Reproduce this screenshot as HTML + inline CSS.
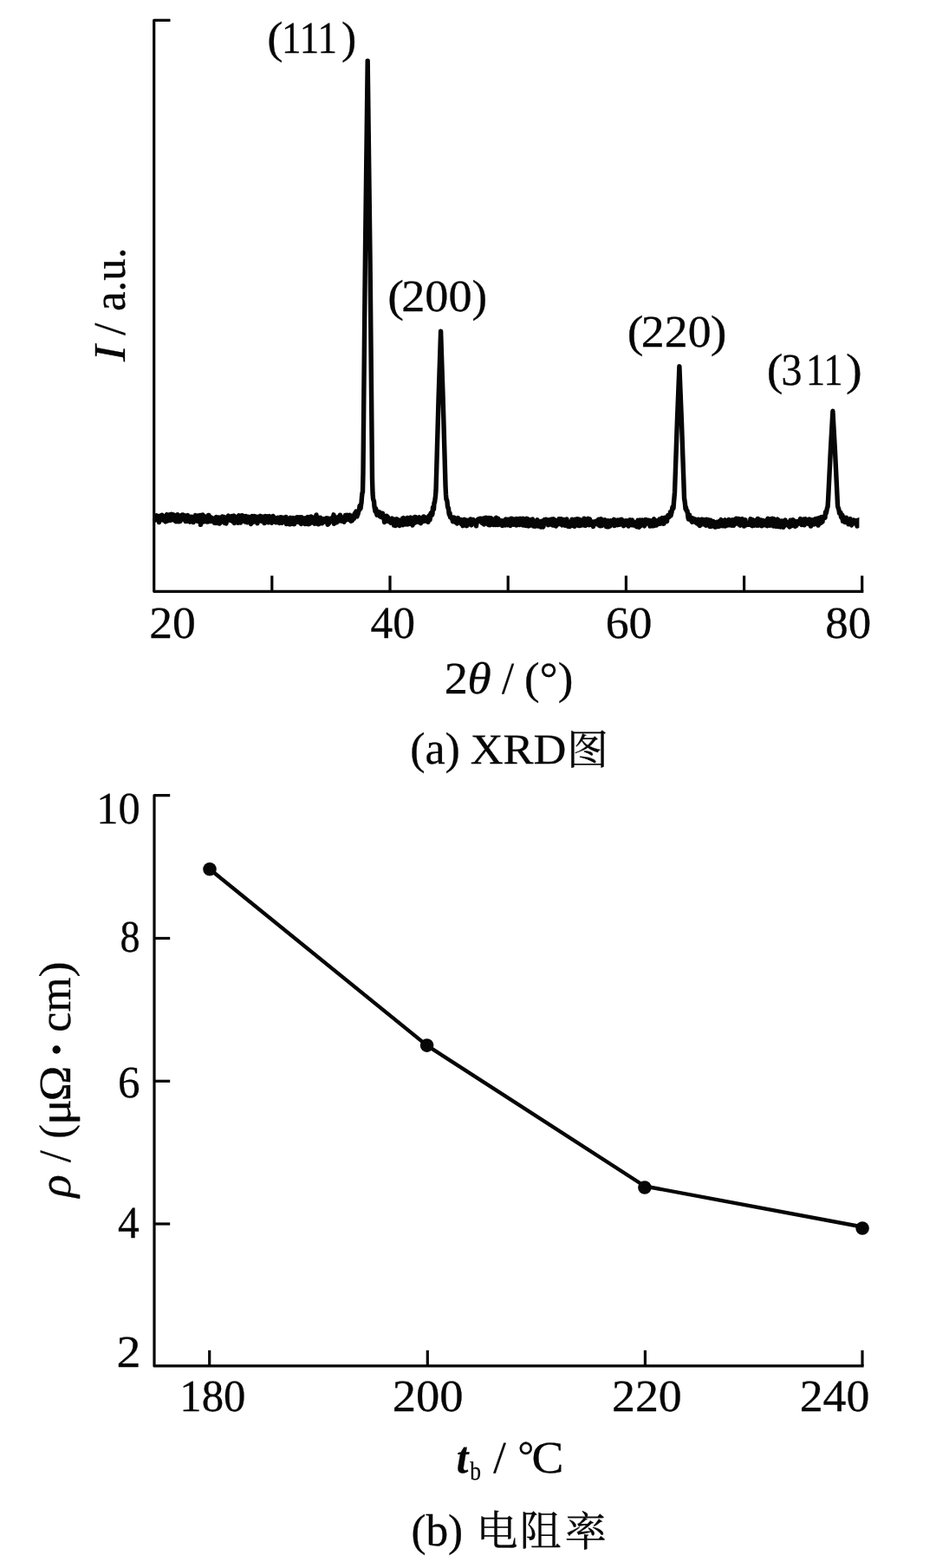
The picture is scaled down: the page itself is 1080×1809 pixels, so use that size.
<!DOCTYPE html>
<html lang="zh"><head><meta charset="utf-8"><title>XRD / resistivity</title>
<style>
html,body{margin:0;padding:0;background:#fff}
svg{display:block}
text{font-family:"Liberation Serif","Noto Serif CJK SC",serif;fill:#060606;stroke:#060606;stroke-width:0.3px;stroke-linejoin:round;white-space:pre;text-rendering:geometricPrecision}
</style></head><body>
<svg width="1080" height="1809" viewBox="0 0 1080 1809">
<rect width="1080" height="1809" fill="#fff"/>
<g fill="none" stroke="#060606" stroke-width="3.2" stroke-linejoin="round">
<path d="M196.5,23.4 H177.7 V682.3 H996.3"/>
<path d="M313.8,682.3 V664.2"/>
<path d="M450.0,682.3 V664.2"/>
<path d="M586.2,682.3 V664.2"/>
<path d="M722.4,682.3 V664.2"/>
<path d="M858.6,682.3 V664.2"/>
<path d="M994.7,682.3 V664.2"/>
<path d="M196.2,917.6 H178.0 V1575.9 H996.6"/>
<path d="M178,1082.5 H196.2"/>
<path d="M178,1247.3 H196.2"/>
<path d="M178,1412.0 H196.2"/>
<path d="M241.7,1575.9 V1557.8"/>
<path d="M493.3,1575.9 V1557.8"/>
<path d="M744.4,1575.9 V1557.8"/>
<path d="M995.0,1575.9 V1557.8"/>
</g>
<clipPath id="xc"><rect x="170" y="40" width="821.4" height="600"/></clipPath>
<path clip-path="url(#xc)" d="M178.5,597.3 179.0,600.1 179.5,599.1 180.0,594.9 180.5,594.7 181.0,594.9 181.5,597.9 182.0,595.3 182.5,599.6 183.0,599.1 183.5,602.5 184.0,601.5 184.5,595.2 185.0,596.6 185.5,595.4 186.0,599.3 186.5,598.5 187.0,594.2 187.5,599.5 188.0,596.3 188.5,597.5 189.0,600.4 189.5,595.6 190.0,598.0 190.5,599.7 191.0,601.9 191.5,596.9 192.0,594.6 192.5,593.6 193.0,599.9 193.5,600.8 194.0,599.2 194.5,598.2 195.0,600.4 195.5,597.3 196.0,593.7 196.5,598.8 197.0,600.3 197.5,596.5 198.0,593.3 198.5,594.6 199.0,593.7 199.5,594.3 200.0,596.6 200.5,593.9 201.0,598.0 201.5,600.4 202.0,595.7 202.5,596.5 203.0,601.7 203.5,595.0 204.0,595.5 204.5,598.6 205.0,593.6 205.5,596.8 206.0,601.9 206.5,598.2 207.0,599.6 207.5,601.6 208.0,601.4 208.5,597.2 209.0,594.8 209.5,594.4 210.0,595.7 210.5,596.9 211.0,594.0 211.5,594.9 212.0,594.3 212.5,599.4 213.0,596.3 213.5,597.3 214.0,601.5 214.5,598.2 215.0,594.9 215.5,597.1 216.0,601.4 216.5,594.4 217.0,598.8 217.5,600.6 218.0,599.8 218.5,601.5 219.0,602.1 219.5,596.1 220.0,598.5 220.5,599.4 221.0,600.7 221.5,596.2 222.0,601.0 222.5,598.3 223.0,602.6 223.5,598.1 224.0,599.2 224.5,601.0 225.0,597.0 225.5,594.6 226.0,598.0 226.5,598.1 227.0,600.9 227.5,599.4 228.0,594.9 228.5,600.0 229.0,601.5 229.5,599.3 230.0,602.0 230.5,597.8 231.0,594.5 231.5,605.4 232.0,600.8 232.5,600.9 233.0,599.5 233.5,598.5 234.0,593.9 234.5,599.5 235.0,601.9 235.5,601.4 236.0,595.7 236.5,596.5 237.0,599.0 237.5,597.6 238.0,601.9 238.5,598.0 239.0,602.0 239.5,602.1 240.0,598.8 240.5,594.4 241.0,594.5 241.5,598.5 242.0,599.3 242.5,599.0 243.0,601.4 243.5,599.5 244.0,597.1 244.5,599.2 245.0,601.4 245.5,598.7 246.0,599.3 246.5,601.0 247.0,599.7 247.5,603.3 248.0,602.8 248.5,597.5 249.0,603.5 249.5,596.5 250.0,599.3 250.5,597.6 251.0,601.3 251.5,603.4 252.0,601.8 252.5,596.9 253.0,604.1 253.5,604.0 254.0,600.0 254.5,603.0 255.0,599.5 255.5,598.7 256.0,598.6 256.5,596.0 257.0,597.5 257.5,598.4 258.0,596.8 258.5,597.8 259.0,596.5 259.5,603.6 260.0,602.3 260.5,603.1 261.0,603.9 261.5,600.3 262.0,599.9 262.5,598.0 263.0,597.2 263.5,595.1 264.0,596.2 264.5,596.0 265.0,599.4 265.5,600.2 266.0,597.7 266.5,599.9 267.0,596.2 267.5,595.6 268.0,597.9 268.5,601.7 269.0,599.4 269.5,597.0 270.0,595.1 270.5,603.5 271.0,597.0 271.5,600.6 272.0,600.6 272.5,602.5 273.0,597.5 273.5,596.8 274.0,602.4 274.5,595.9 275.0,603.2 275.5,594.8 276.0,602.3 276.5,595.1 277.0,598.0 277.5,603.1 278.0,600.7 278.5,596.3 279.0,594.7 279.5,597.5 280.0,596.0 280.5,596.3 281.0,595.4 281.5,600.4 282.0,601.5 282.5,601.9 283.0,599.9 283.5,597.4 284.0,595.6 284.5,602.3 285.0,602.7 285.5,600.1 286.0,601.2 286.5,597.5 287.0,596.3 287.5,601.3 288.0,598.8 288.5,599.5 289.0,601.7 289.5,604.5 290.0,603.0 290.5,601.3 291.0,595.5 291.5,598.4 292.0,602.6 292.5,600.8 293.0,601.2 293.5,595.4 294.0,601.9 294.5,600.0 295.0,595.9 295.5,597.6 296.0,597.7 296.5,597.1 297.0,603.8 297.5,598.7 298.0,601.3 298.5,600.7 299.0,596.0 299.5,597.5 300.0,597.9 300.5,595.3 301.0,597.5 301.5,601.2 302.0,597.7 302.5,599.2 303.0,596.1 303.5,596.8 304.0,602.0 304.5,599.4 305.0,603.6 305.5,602.9 306.0,595.5 306.5,601.3 307.0,597.9 307.5,600.3 308.0,595.7 308.5,599.0 309.0,598.1 309.5,602.9 310.0,598.2 310.5,598.2 311.0,595.6 311.5,597.4 312.0,598.0 312.5,597.9 313.0,597.8 313.5,603.2 314.0,597.7 314.5,596.9 315.0,595.4 315.5,597.0 316.0,596.7 316.5,599.0 317.0,597.8 317.5,602.3 318.0,600.1 318.5,602.8 319.0,600.9 319.5,601.1 320.0,601.3 320.5,597.3 321.0,602.9 321.5,599.0 322.0,597.6 322.5,603.5 323.0,600.8 323.5,600.0 324.0,596.7 324.5,597.1 325.0,599.6 325.5,603.3 326.0,599.4 326.5,597.2 327.0,598.6 327.5,597.7 328.0,600.7 328.5,602.3 329.0,599.5 329.5,599.2 330.0,596.5 330.5,604.5 331.0,600.5 331.5,603.7 332.0,598.6 332.5,599.8 333.0,604.6 333.5,602.0 334.0,603.1 334.5,604.9 335.0,597.1 335.5,604.6 336.0,600.6 336.5,603.4 337.0,597.9 337.5,597.6 338.0,602.8 338.5,604.5 339.0,601.9 339.5,604.7 340.0,599.3 340.5,598.9 341.0,602.8 341.5,597.3 342.0,601.8 342.5,598.6 343.0,596.7 343.5,600.6 344.0,602.2 344.5,600.7 345.0,598.7 345.5,602.7 346.0,596.7 346.5,602.4 347.0,598.7 347.5,604.5 348.0,596.7 348.5,600.0 349.0,598.1 349.5,602.7 350.0,598.1 350.5,599.0 351.0,598.2 351.5,602.8 352.0,604.5 352.5,597.8 353.0,599.8 353.5,604.4 354.0,599.5 354.5,604.6 355.0,596.5 355.5,599.5 356.0,603.7 356.5,604.7 357.0,598.9 357.5,604.2 358.0,596.3 358.5,599.3 359.0,598.9 359.5,596.1 360.0,599.1 360.5,597.2 361.0,597.9 361.5,603.3 362.0,599.9 362.5,600.3 363.0,604.2 363.5,599.4 364.0,596.5 364.5,603.4 365.0,593.9 365.5,596.9 366.0,596.9 366.5,599.6 367.0,604.8 367.5,603.0 368.0,604.6 368.5,602.8 369.0,603.6 369.5,597.2 370.0,597.6 370.5,600.7 371.0,603.6 371.5,603.8 372.0,602.7 372.5,602.8 373.0,598.8 373.5,600.8 374.0,602.0 374.5,600.2 375.0,600.4 375.5,601.0 376.0,598.2 376.5,597.8 377.0,602.3 377.5,600.5 378.0,605.3 378.5,598.0 379.0,604.5 379.5,601.4 380.0,603.3 380.5,599.3 381.0,599.0 381.5,598.9 382.0,598.2 382.5,599.0 383.0,598.2 383.5,598.7 384.0,601.0 384.5,597.3 385.0,593.8 385.5,604.3 386.0,598.8 386.5,597.9 387.0,601.2 387.5,599.4 388.0,600.0 388.5,602.8 389.0,596.9 389.5,601.3 390.0,599.1 390.5,597.6 391.0,601.0 391.5,595.6 392.0,599.0 392.5,594.2 393.0,596.2 393.5,599.1 394.0,601.2 394.5,596.9 395.0,598.9 395.5,597.9 396.0,597.8 396.5,598.0 397.0,602.3 397.5,597.8 398.0,600.8 398.5,594.5 399.0,598.0 399.5,597.7 400.0,598.1 400.5,594.1 401.0,599.4 401.5,594.6 402.0,596.9 402.5,594.8 403.0,598.0 403.5,594.3 404.0,600.2 404.5,594.9 405.0,601.2 405.5,597.2 406.0,600.9 406.5,600.4 407.0,599.4 407.5,598.7 408.0,595.1 408.5,598.3 409.0,592.9 409.5,595.0 410.0,591.4 410.5,596.0 411.0,590.0 411.5,595.5 412.0,595.8 412.5,593.5 413.0,593.3 413.5,590.7 414.0,589.4 414.5,588.3 415.0,583.7 415.5,586.0 416.0,586.7 416.5,583.1 417.0,580.1 417.5,573.4 418.0,568.9 418.5,567.5 419.0,544.6 419.5,491.9 420.0,439.4 420.5,387.2 421.0,335.1 421.5,287.7 422.0,247.4 422.5,207.1 423.0,166.8 423.5,126.5 424.0,86.2 424.2,70.1 424.5,94.3 425.0,134.6 425.5,174.9 426.0,215.1 426.5,255.4 427.0,295.7 427.5,345.5 428.0,397.7 428.5,449.8 429.0,501.3 429.5,552.1 430.0,569.0 430.5,575.0 431.0,577.3 431.5,578.1 432.0,584.5 432.5,587.2 433.0,590.0 433.5,586.5 434.0,588.5 434.5,592.3 435.0,594.2 435.5,593.6 436.0,593.6 436.5,590.4 437.0,592.0 437.5,593.4 438.0,590.8 438.5,595.9 439.0,591.7 439.5,594.2 440.0,596.6 440.5,595.0 441.0,596.0 441.5,592.2 442.0,597.6 442.5,595.3 443.0,596.5 443.5,602.6 444.0,601.5 444.5,599.8 445.0,600.0 445.5,599.3 446.0,595.2 446.5,595.6 447.0,596.9 447.5,596.6 448.0,601.5 448.5,599.6 449.0,601.8 449.5,600.0 450.0,601.0 450.5,602.2 451.0,603.2 451.5,601.7 452.0,601.0 452.5,598.1 453.0,599.1 453.5,600.0 454.0,599.0 454.5,606.0 455.0,600.3 455.5,603.5 456.0,604.0 456.5,606.5 457.0,606.1 457.5,598.8 458.0,599.5 458.5,605.3 459.0,599.4 459.5,599.7 460.0,603.2 460.5,605.4 461.0,606.5 461.5,602.6 462.0,600.5 462.5,604.1 463.0,600.5 463.5,603.2 464.0,605.6 464.5,597.9 465.0,605.7 465.5,597.5 466.0,603.1 466.5,598.1 467.0,604.9 467.5,599.1 468.0,602.0 468.5,604.9 469.0,603.4 469.5,599.3 470.0,597.4 470.5,605.0 471.0,597.7 471.5,602.4 472.0,598.0 472.5,602.4 473.0,599.7 473.5,599.8 474.0,597.1 474.5,604.5 475.0,601.8 475.5,599.0 476.0,606.1 476.5,599.5 477.0,601.1 477.5,603.9 478.0,603.5 478.5,596.4 479.0,603.0 479.5,596.4 480.0,600.6 480.5,598.0 481.0,599.3 481.5,598.5 482.0,598.7 482.5,602.3 483.0,597.1 483.5,596.8 484.0,602.1 484.5,601.5 485.0,599.5 485.5,603.7 486.0,602.0 486.5,599.7 487.0,597.4 487.5,601.2 488.0,596.8 488.5,601.5 489.0,595.9 489.5,599.9 490.0,599.2 490.5,598.0 491.0,601.0 491.5,597.1 492.0,600.4 492.5,599.2 493.0,601.1 493.5,599.9 494.0,602.3 494.5,598.7 495.0,595.1 495.5,594.7 496.0,599.9 496.5,596.7 497.0,592.2 497.5,592.7 498.0,591.2 498.5,594.3 499.0,592.5 499.5,585.1 500.0,586.4 500.5,587.6 501.0,579.8 501.5,579.8 502.0,575.8 502.5,572.4 503.0,565.8 503.5,549.2 504.0,531.5 504.5,513.9 505.0,496.4 505.5,478.8 506.0,461.2 506.5,446.1 507.0,431.0 507.5,415.9 508.0,400.6 508.5,385.2 508.6,382.1 509.0,394.4 509.5,409.8 510.0,425.0 510.5,440.1 511.0,455.2 511.5,471.8 512.0,489.4 512.5,506.9 513.0,524.5 513.5,542.1 514.0,560.0 514.5,570.4 515.0,576.2 515.5,576.5 516.0,579.0 516.5,584.4 517.0,586.3 517.5,586.2 518.0,592.0 518.5,594.0 519.0,591.8 519.5,596.8 520.0,596.7 520.5,596.2 521.0,598.2 521.5,597.7 522.0,599.4 522.5,601.7 523.0,599.6 523.5,598.8 524.0,597.1 524.5,601.1 525.0,601.2 525.5,602.5 526.0,598.9 526.5,598.8 527.0,601.5 527.5,604.0 528.0,599.2 528.5,597.5 529.0,599.8 529.5,601.7 530.0,602.4 530.5,599.4 531.0,600.2 531.5,602.8 532.0,599.5 532.5,604.8 533.0,601.6 533.5,603.5 534.0,606.7 534.5,606.2 535.0,604.0 535.5,602.9 536.0,599.3 536.5,604.6 537.0,599.8 537.5,606.0 538.0,603.7 538.5,606.7 539.0,601.0 539.5,604.1 540.0,600.3 540.5,604.9 541.0,601.4 541.5,602.6 542.0,604.7 542.5,602.0 543.0,599.0 543.5,605.2 544.0,605.8 544.5,603.0 545.0,600.0 545.5,602.3 546.0,599.5 546.5,601.6 547.0,603.4 547.5,601.0 548.0,600.7 548.5,600.9 549.0,602.7 549.5,606.9 550.0,601.3 550.5,602.5 551.0,599.8 551.5,599.2 552.0,598.8 552.5,601.5 553.0,601.5 553.5,601.4 554.0,598.3 554.5,601.9 555.0,598.3 555.5,602.5 556.0,599.0 556.5,603.6 557.0,598.3 557.5,603.1 558.0,599.0 558.5,605.1 559.0,598.4 559.5,597.6 560.0,598.6 560.5,603.6 561.0,597.1 561.5,603.0 562.0,597.9 562.5,597.7 563.0,604.4 563.5,605.4 564.0,597.5 564.5,602.5 565.0,605.9 565.5,601.0 566.0,603.0 566.5,597.8 567.0,603.3 567.5,605.0 568.0,598.6 568.5,600.0 569.0,601.5 569.5,605.6 570.0,604.1 570.5,598.9 571.0,600.3 571.5,602.1 572.0,605.5 572.5,597.2 573.0,603.5 573.5,598.6 574.0,604.2 574.5,605.4 575.0,598.5 575.5,603.0 576.0,603.9 576.5,605.0 577.0,603.6 577.5,601.7 578.0,604.9 578.5,604.9 579.0,600.6 579.5,606.6 580.0,605.3 580.5,603.4 581.0,605.3 581.5,600.8 582.0,605.8 582.5,604.1 583.0,605.9 583.5,599.0 584.0,599.4 584.5,604.7 585.0,600.5 585.5,605.8 586.0,599.3 586.5,604.9 587.0,604.7 587.5,602.6 588.0,602.1 588.5,604.7 589.0,606.4 589.5,598.3 590.0,603.9 590.5,600.8 591.0,598.4 591.5,604.4 592.0,602.7 592.5,605.3 593.0,601.7 593.5,599.2 594.0,599.1 594.5,600.7 595.0,601.0 595.5,598.8 596.0,606.1 596.5,598.4 597.0,604.3 597.5,602.6 598.0,600.5 598.5,605.0 599.0,602.5 599.5,605.5 600.0,598.3 600.5,602.6 601.0,598.6 601.5,600.4 602.0,598.6 602.5,605.1 603.0,605.8 603.5,598.2 604.0,601.1 604.5,606.0 605.0,602.6 605.5,606.1 606.0,601.2 606.5,599.3 607.0,606.6 607.5,598.3 608.0,601.1 608.5,606.0 609.0,598.6 609.5,604.4 610.0,606.9 610.5,599.6 611.0,606.6 611.5,601.1 612.0,605.1 612.5,601.4 613.0,599.8 613.5,600.2 614.0,600.0 614.5,599.0 615.0,600.6 615.5,607.0 616.0,607.1 616.5,606.8 617.0,603.0 617.5,607.2 618.0,604.7 618.5,602.2 619.0,603.4 619.5,600.6 620.0,599.8 620.5,604.2 621.0,607.0 621.5,603.0 622.0,601.8 622.5,602.3 623.0,603.7 623.5,607.3 624.0,608.0 624.5,607.2 625.0,601.3 625.5,601.9 626.0,601.2 626.5,608.0 627.0,607.4 627.5,601.9 628.0,599.8 628.5,601.8 629.0,599.4 629.5,602.2 630.0,599.2 630.5,603.7 631.0,602.9 631.5,601.0 632.0,600.2 632.5,605.7 633.0,600.7 633.5,599.7 634.0,603.2 634.5,600.6 635.0,605.0 635.5,603.8 636.0,599.3 636.5,602.2 637.0,599.1 637.5,601.5 638.0,606.1 638.5,598.7 639.0,602.7 639.5,600.8 640.0,605.7 640.5,599.9 641.0,606.7 641.5,606.9 642.0,601.5 642.5,605.7 643.0,605.2 643.5,603.4 644.0,601.0 644.5,604.8 645.0,598.7 645.5,599.6 646.0,599.2 646.5,599.9 647.0,603.3 647.5,598.7 648.0,605.0 648.5,605.8 649.0,602.6 649.5,602.5 650.0,599.5 650.5,601.0 651.0,603.8 651.5,599.7 652.0,606.4 652.5,600.7 653.0,604.6 653.5,602.3 654.0,599.0 654.5,604.9 655.0,604.1 655.5,607.3 656.0,602.1 656.5,606.2 657.0,606.3 657.5,607.5 658.0,602.4 658.5,601.8 659.0,604.9 659.5,606.5 660.0,599.1 660.5,600.6 661.0,600.7 661.5,600.9 662.0,602.4 662.5,602.9 663.0,607.4 663.5,599.2 664.0,604.2 664.5,604.2 665.0,605.8 665.5,599.6 666.0,598.8 666.5,599.0 667.0,601.7 667.5,599.1 668.0,606.6 668.5,599.2 669.0,606.6 669.5,602.9 670.0,606.3 670.5,600.7 671.0,604.7 671.5,602.2 672.0,600.1 672.5,602.9 673.0,605.8 673.5,602.2 674.0,598.2 674.5,599.6 675.0,606.3 675.5,605.9 676.0,606.1 676.5,600.6 677.0,605.4 677.5,599.4 678.0,605.3 678.5,598.2 679.0,601.5 679.5,598.6 680.0,605.9 680.5,598.9 681.0,600.6 681.5,602.9 682.0,604.7 682.5,604.0 683.0,604.2 683.5,604.4 684.0,605.6 684.5,607.5 685.0,602.0 685.5,602.7 686.0,604.5 686.5,603.0 687.0,601.7 687.5,604.1 688.0,601.3 688.5,601.3 689.0,604.8 689.5,602.4 690.0,599.7 690.5,599.4 691.0,603.2 691.5,606.2 692.0,605.6 692.5,606.7 693.0,602.1 693.5,598.6 694.0,603.4 694.5,606.6 695.0,603.3 695.5,603.2 696.0,604.7 696.5,601.9 697.0,601.9 697.5,604.8 698.0,599.8 698.5,602.5 699.0,604.0 699.5,607.5 700.0,602.9 700.5,607.8 701.0,603.8 701.5,600.7 702.0,607.8 702.5,603.7 703.0,607.1 703.5,606.4 704.0,607.0 704.5,600.7 705.0,603.8 705.5,601.0 706.0,604.8 706.5,602.4 707.0,604.9 707.5,602.9 708.0,602.0 708.5,599.3 709.0,606.6 709.5,605.1 710.0,603.6 710.5,601.5 711.0,603.8 711.5,604.1 712.0,600.2 712.5,605.7 713.0,599.9 713.5,603.6 714.0,604.3 714.5,601.2 715.0,605.2 715.5,600.4 716.0,599.7 716.5,603.9 717.0,602.7 717.5,599.3 718.0,603.8 718.5,602.6 719.0,600.9 719.5,606.8 720.0,601.4 720.5,605.8 721.0,603.9 721.5,603.0 722.0,600.8 722.5,604.9 723.0,601.3 723.5,602.9 724.0,600.8 724.5,601.8 725.0,607.1 725.5,603.6 726.0,603.3 726.5,602.2 727.0,599.8 727.5,601.8 728.0,600.4 728.5,601.9 729.0,605.8 729.5,600.0 730.0,603.6 730.5,603.7 731.0,605.9 731.5,602.2 732.0,602.5 732.5,604.1 733.0,603.2 733.5,606.6 734.0,607.3 734.5,604.3 735.0,607.8 735.5,602.7 736.0,600.3 736.5,605.2 737.0,606.7 737.5,608.2 738.0,602.0 738.5,600.1 739.0,606.8 739.5,605.1 740.0,604.3 740.5,603.7 741.0,600.0 741.5,601.4 742.0,605.6 742.5,602.9 743.0,606.1 743.5,606.8 744.0,604.5 744.5,605.3 745.0,599.5 745.5,603.3 746.0,602.7 746.5,600.0 747.0,601.5 747.5,601.0 748.0,602.6 748.5,602.7 749.0,600.3 749.5,603.7 750.0,607.0 750.5,600.8 751.0,603.3 751.5,604.5 752.0,606.8 752.5,605.2 753.0,606.3 753.5,603.5 754.0,606.9 754.5,598.6 755.0,605.0 755.5,606.2 756.0,604.6 756.5,603.4 757.0,602.5 757.5,606.1 758.0,600.7 758.5,603.6 759.0,603.0 759.5,603.4 760.0,603.3 760.5,604.1 761.0,598.9 761.5,604.3 762.0,598.7 762.5,603.7 763.0,599.1 763.5,598.2 764.0,597.5 764.5,597.8 765.0,600.6 765.5,604.3 766.0,604.2 766.5,598.7 767.0,597.3 767.5,598.8 768.0,600.5 768.5,597.3 769.0,600.7 769.5,601.5 770.0,595.8 770.5,597.3 771.0,594.5 771.5,595.1 772.0,596.6 772.5,595.2 773.0,594.9 773.5,590.6 774.0,595.0 774.5,592.7 775.0,591.0 775.5,587.8 776.0,585.1 776.5,587.0 777.0,586.3 777.5,579.2 778.0,573.9 778.5,567.9 779.0,554.0 779.5,539.5 780.0,525.1 780.5,510.7 781.0,496.3 781.5,482.6 782.0,470.3 782.5,457.9 783.0,445.4 783.5,432.8 783.9,422.7 784.0,425.2 784.5,437.8 785.0,450.4 785.5,462.8 786.0,475.2 786.5,487.6 787.0,502.0 787.5,516.5 788.0,530.9 788.5,545.3 789.0,559.7 789.5,574.7 790.0,577.8 790.5,581.7 791.0,587.2 791.5,585.3 792.0,588.7 792.5,589.8 793.0,589.2 793.5,592.9 794.0,597.3 794.5,599.1 795.0,597.7 795.5,593.9 796.0,598.6 796.5,598.8 797.0,598.6 797.5,597.7 798.0,601.5 798.5,602.2 799.0,597.8 799.5,601.3 800.0,599.7 800.5,600.5 801.0,598.8 801.5,598.7 802.0,599.0 802.5,602.7 803.0,603.0 803.5,599.4 804.0,602.2 804.5,604.0 805.0,602.7 805.5,603.8 806.0,599.2 806.5,602.5 807.0,606.3 807.5,606.5 808.0,602.3 808.5,603.1 809.0,600.1 809.5,599.4 810.0,604.0 810.5,599.1 811.0,604.9 811.5,602.9 812.0,600.1 812.5,599.8 813.0,600.8 813.5,605.4 814.0,602.3 814.5,606.2 815.0,599.3 815.5,601.4 816.0,603.9 816.5,603.6 817.0,602.5 817.5,602.3 818.0,599.8 818.5,601.6 819.0,607.5 819.5,606.5 820.0,600.2 820.5,600.9 821.0,607.2 821.5,606.9 822.0,601.8 822.5,606.3 823.0,601.5 823.5,602.7 824.0,605.1 824.5,604.9 825.0,608.1 825.5,603.6 826.0,608.0 826.5,602.8 827.0,602.3 827.5,605.0 828.0,606.7 828.5,602.4 829.0,607.6 829.5,602.3 830.0,601.4 830.5,607.0 831.0,604.8 831.5,600.5 832.0,599.7 832.5,602.2 833.0,604.2 833.5,605.1 834.0,606.8 834.5,600.6 835.0,603.8 835.5,605.7 836.0,600.8 836.5,599.9 837.0,607.0 837.5,601.7 838.0,600.6 838.5,604.7 839.0,604.5 839.5,606.0 840.0,602.7 840.5,605.3 841.0,599.5 841.5,605.9 842.0,601.6 842.5,604.8 843.0,603.1 843.5,604.3 844.0,602.9 844.5,606.3 845.0,599.6 845.5,603.0 846.0,601.0 846.5,606.3 847.0,604.2 847.5,605.2 848.0,599.4 848.5,602.6 849.0,603.3 849.5,598.1 850.0,601.8 850.5,600.4 851.0,598.8 851.5,598.5 852.0,598.4 852.5,605.1 853.0,602.1 853.5,605.7 854.0,606.1 854.5,601.0 855.0,603.8 855.5,604.1 856.0,598.7 856.5,598.7 857.0,601.2 857.5,603.5 858.0,600.2 858.5,607.0 859.0,603.8 859.5,601.3 860.0,599.8 860.5,605.2 861.0,605.6 861.5,603.2 862.0,603.4 862.5,603.8 863.0,605.1 863.5,604.8 864.0,605.4 864.5,605.4 865.0,602.6 865.5,603.2 866.0,598.6 866.5,605.7 867.0,600.0 867.5,602.1 868.0,606.8 868.5,599.7 869.0,600.4 869.5,600.8 870.0,605.0 870.5,606.1 871.0,605.3 871.5,601.6 872.0,602.3 872.5,600.3 873.0,606.3 873.5,600.2 874.0,598.6 874.5,598.5 875.0,606.3 875.5,601.3 876.0,601.5 876.5,601.5 877.0,604.1 877.5,601.9 878.0,599.9 878.5,603.7 879.0,606.8 879.5,603.0 880.0,605.6 880.5,600.4 881.0,605.2 881.5,600.9 882.0,605.8 882.5,604.0 883.0,602.0 883.5,605.7 884.0,605.7 884.5,604.8 885.0,599.6 885.5,606.7 886.0,598.3 886.5,605.2 887.0,604.5 887.5,599.6 888.0,599.0 888.5,606.2 889.0,605.9 889.5,598.6 890.0,605.2 890.5,598.7 891.0,600.4 891.5,598.3 892.0,599.5 892.5,607.0 893.0,598.7 893.5,603.4 894.0,603.5 894.5,603.4 895.0,607.2 895.5,607.4 896.0,607.4 896.5,599.7 897.0,599.2 897.5,607.6 898.0,599.6 898.5,607.5 899.0,602.1 899.5,603.3 900.0,602.3 900.5,608.1 901.0,601.8 901.5,604.2 902.0,600.9 902.5,607.3 903.0,607.4 903.5,601.7 904.0,608.3 904.5,606.0 905.0,606.9 905.5,600.5 906.0,600.0 906.5,603.3 907.0,605.7 907.5,605.5 908.0,604.7 908.5,605.3 909.0,602.7 909.5,603.0 910.0,606.5 910.5,602.7 911.0,608.1 911.5,605.3 912.0,600.2 912.5,605.3 913.0,606.1 913.5,606.7 914.0,602.4 914.5,604.3 915.0,599.8 915.5,602.4 916.0,600.6 916.5,605.0 917.0,604.8 917.5,607.3 918.0,604.6 918.5,601.7 919.0,606.4 919.5,602.4 920.0,602.0 920.5,604.5 921.0,601.3 921.5,601.0 922.0,602.5 922.5,604.1 923.0,600.0 923.5,598.5 924.0,602.7 924.5,603.8 925.0,605.4 925.5,602.1 926.0,599.9 926.5,600.7 927.0,600.4 927.5,599.1 928.0,605.8 928.5,602.0 929.0,603.7 929.5,598.7 930.0,601.5 930.5,600.9 931.0,603.9 931.5,601.4 932.0,603.4 932.5,600.0 933.0,604.5 933.5,604.1 934.0,599.0 934.5,601.6 935.0,602.6 935.5,607.1 936.0,606.4 936.5,602.1 937.0,599.8 937.5,601.7 938.0,602.2 938.5,601.8 939.0,604.1 939.5,604.8 940.0,599.2 940.5,598.8 941.0,598.9 941.5,604.4 942.0,598.4 942.5,603.9 943.0,598.3 943.5,601.3 944.0,606.1 944.5,604.9 945.0,600.4 945.5,597.5 946.0,599.6 946.5,599.6 947.0,603.6 947.5,600.4 948.0,596.4 948.5,602.4 949.0,601.9 949.5,596.5 950.0,598.6 950.5,597.1 951.0,597.0 951.5,597.5 952.0,597.3 952.5,590.8 953.0,592.5 953.5,591.3 954.0,588.3 954.5,585.7 955.0,585.0 955.5,578.1 956.0,568.0 956.5,557.7 957.0,547.4 957.5,537.1 958.0,526.8 958.5,517.1 959.0,508.2 959.5,499.4 960.0,490.5 960.5,481.5 960.9,474.3 961.0,476.1 961.5,485.1 962.0,494.1 962.5,502.9 963.0,511.8 963.5,520.6 964.0,530.9 964.5,541.2 965.0,551.5 965.5,561.8 966.0,572.2 966.5,583.1 967.0,585.9 967.5,586.2 968.0,588.7 968.5,592.2 969.0,590.3 969.5,592.5 970.0,591.4 970.5,596.4 971.0,597.4 971.5,594.1 972.0,594.4 972.5,601.4 973.0,596.5 973.5,597.7 974.0,601.7 974.5,599.8 975.0,602.6 975.5,601.5 976.0,601.9 976.5,597.2 977.0,598.6 977.5,598.9 978.0,601.7 978.5,600.8 979.0,604.9 979.5,604.1 980.0,604.5 980.5,599.6 981.0,598.7 981.5,603.5 982.0,604.6 982.5,605.9 983.0,605.1 983.5,602.0 984.0,602.7 984.5,603.2 985.0,600.0 985.5,600.2 986.0,603.9 986.5,603.4 987.0,604.0 987.5,602.6 988.0,603.0 988.5,600.6 989.0,607.1 989.5,605.2 990.0,606.4 990.5,605.5 991.0,606.0 991.5,599.4 992.0,600.4 992.5,600.5 993.0,601.3 993.5,606.2 994.0,606.5 994.5,600.0" fill="none" stroke="#060606" stroke-width="5.4" stroke-linejoin="round" stroke-linecap="butt"/>
<path d="M242.0,1002.8 L492.6,1206.1 L743.9,1368.5 L995.1,1415.5" fill="none" stroke="#060606" stroke-width="4.4" stroke-linejoin="round"/>
<circle cx="242.0" cy="1002.8" r="7.8" fill="#060606"/>
<circle cx="492.6" cy="1206.1" r="7.8" fill="#060606"/>
<circle cx="743.9" cy="1370.0" r="7.8" fill="#060606"/>
<circle cx="995.1" cy="1417.0" r="7.8" fill="#060606"/>
<circle cx="65.2" cy="1211" r="4.7" fill="#060606"/>
<g opacity="0.999">
<text transform="translate(308.32 60.90) scale(1.0593 1.0)" font-size="52.0"  >(</text>
<text transform="translate(325.01 60.90) scale(0.8644 1.0)" font-size="52.0"  >111</text>
<text transform="translate(394.11 60.90) scale(0.9964 1.0)" font-size="52.0"  >)</text>
<text transform="translate(447.18 358.90) scale(1.0800 1.0)" font-size="52.0"  >(</text>
<text transform="translate(463.25 358.90) scale(1.0432 1.0)" font-size="52.0"  >200</text>
<text transform="translate(544.47 358.90) scale(1.0182 1.0)" font-size="52.0"  >)</text>
<text transform="translate(723.73 399.90) scale(1.0800 1.0)" font-size="52.0"  >(</text>
<text transform="translate(739.87 399.90) scale(1.0338 1.0)" font-size="52.0"  >220</text>
<text transform="translate(819.71 399.90) scale(1.0800 1.0)" font-size="52.0"  >)</text>
<text transform="translate(884.63 444.20) scale(1.0800 1.0)" font-size="52.0"  >(</text>
<text transform="translate(901.62 444.20) scale(0.9241 1.0)" font-size="52.0"  >3</text>
<text transform="translate(930.11 444.20) scale(0.8500 1.0)" font-size="52.0"  >11</text>
<text transform="translate(976.00 444.20) scale(1.0800 1.0)" font-size="52.0"  >)</text>
<text transform="translate(172.18 735.70) scale(1.0292 1.0)" font-size="52.0"  >20</text>
<text transform="translate(427.56 735.70) scale(0.9899 1.0)" font-size="52.0"  >40</text>
<text transform="translate(698.63 735.70) scale(1.0363 1.0)" font-size="52.0"  >60</text>
<text transform="translate(952.22 735.70) scale(1.0165 1.0)" font-size="52.0"  >80</text>
<text transform="translate(512.75 800.20) scale(1.0429 1.0)" font-size="52.0"  >2</text>
<text transform="translate(539.31 800.20) scale(1.0773 1.0)" font-size="52.0" font-style="italic" >θ</text>
<text transform="translate(579.00 800.20) scale(0.9724 1.0)" font-size="52.0"  >/</text>
<text transform="translate(604.91 800.20) scale(1.0176 1.0)" font-size="52.0"  >(°)</text>
<text transform="translate(473.15 880.90) scale(1.0009 1.0)" font-size="52.0"  >(a)</text>
<text transform="translate(542.69 880.90) scale(1.0080 0.95)" font-size="52.0"  >XRD</text>
<g transform="translate(143.5 0) rotate(-90)"><text transform="translate(-417.10 0.00) scale(1.0800 1.0)" font-size="52.0" font-style="italic" >I</text></g>
<g transform="translate(143.5 0) rotate(-90)"><text transform="translate(-386.70 0.00) scale(0.9724 1.0)" font-size="52.0"  >/</text></g>
<g transform="translate(143.5 0) rotate(-90)"><text transform="translate(-359.11 0.00) scale(0.9786 1.0)" font-size="52.0"  >a.u.</text></g>
<text transform="translate(111.23 949.80) scale(0.9705 1.0)" font-size="52.0"  >10</text>
<text transform="translate(138.44 1098.40) scale(0.8889 1.0)" font-size="52.0"  >8</text>
<text transform="translate(135.94 1266.10) scale(0.9822 1.0)" font-size="52.0"  >6</text>
<text transform="translate(135.99 1428.20) scale(0.9510 1.0)" font-size="52.0"  >4</text>
<text transform="translate(134.58 1577.20) scale(1.0762 1.0)" font-size="52.0"  >2</text>
<text transform="translate(207.31 1628.20) scale(0.9756 1.0)" font-size="52.0"  >180</text>
<text transform="translate(452.64 1628.20) scale(1.0500 1.0)" font-size="52.0"  >200</text>
<text transform="translate(705.97 1628.20) scale(1.0365 1.0)" font-size="52.0"  >220</text>
<text transform="translate(922.67 1628.20) scale(1.0365 1.0)" font-size="52.0"  >240</text>
<text transform="translate(526.79 1698.80) scale(0.9404 1.0)" font-size="52.0" font-style="italic" font-weight="bold" >t</text>
<text transform="translate(542.26 1707.40) scale(0.8500 1.0)" font-size="30"  >b</text>
<text transform="translate(569.20 1698.60) scale(1.0069 1.0)" font-size="52.0"  >/</text>
<text transform="translate(597.42 1695.30) scale(0.9898 1.0)" font-size="47"  >°</text>
<text transform="translate(613.57 1698.60) scale(1.0633 1.0)" font-size="52.0"  >C</text>
<text transform="translate(474.38 1782.90) scale(0.9867 1.0)" font-size="52.0"  >(b)</text>
<g transform="translate(80.8 0) rotate(-90)"><text transform="translate(-1381.62 0.00) scale(1.0560 1.0)" font-size="52.0" font-style="italic" >ρ</text></g>
<g transform="translate(80.8 0) rotate(-90)"><text transform="translate(-1340.90 0.00) scale(0.9586 1.0)" font-size="52.0"  >/</text></g>
<g transform="translate(80.8 0) rotate(-90)"><text transform="translate(-1313.65 0.00) scale(0.9556 1.0)" font-size="52.0"  >(</text></g>
<g transform="translate(80.8 0) rotate(-90)"><text transform="translate(-1297.85 0.00) scale(1.0636 1.0)" font-size="52.0"  >μ</text></g>
<g transform="translate(80.8 0) rotate(-90)"><text transform="translate(-1270.44 0.00) scale(1.0567 1.0)" font-size="52.0"  >Ω</text></g>
<g transform="translate(80.8 0) rotate(-90)"><text transform="translate(-1190.75 0.00) scale(0.9975 1.0)" font-size="52.0"  >c</text></g>
<g transform="translate(80.8 0) rotate(-90)"><text transform="translate(-1167.59 0.00) scale(0.9884 1.0)" font-size="52.0"  >m</text></g>
<g transform="translate(80.8 0) rotate(-90)"><text transform="translate(-1127.58 0.00) scale(1.0545 1.0)" font-size="52.0"  >)</text></g>
</g>
<text x="654.1" y="881.7" font-size="48">图</text>
<text x="549.4" y="1783.1" font-size="48">电</text>
<text x="599.7" y="1783.3" font-size="48">阻</text>
<text x="651.7" y="1783.7" font-size="48">率</text>
</svg>
</body></html>
